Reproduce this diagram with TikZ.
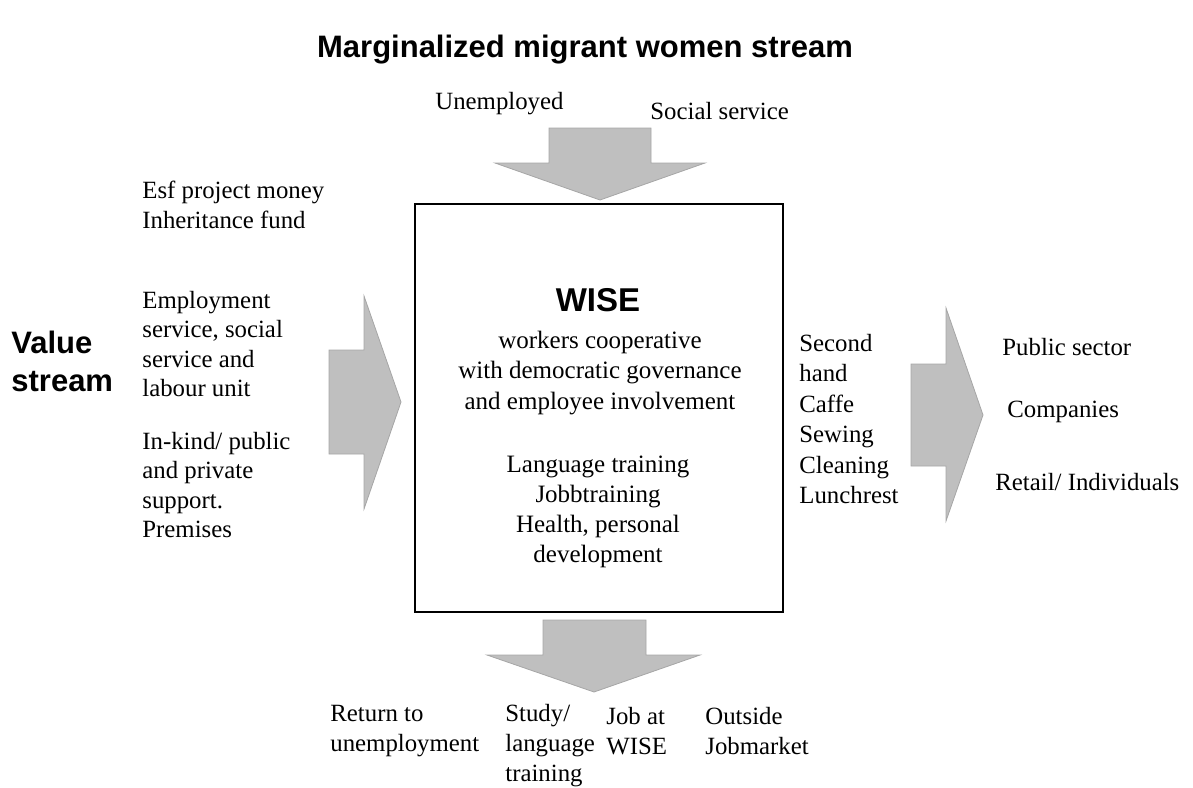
\documentclass[tikz,border=0pt]{standalone}
\usepackage{fontspec}
\setmainfont{Liberation Serif}
\newfontfamily\headfont{Liberation Sans}
\definecolor{flowgray}{RGB}{191,191,191}
\definecolor{flowedge}{RGB}{166,166,166}
\tikzset{
  txt/.style={inner sep=0pt, align=left, anchor=west, font=\fontsize{12.4}{14.8}\selectfont},
  ctxt/.style={inner sep=0pt, align=center, font=\fontsize{12.5}{15.1}\selectfont},
  head/.style={inner sep=0pt, font=\headfont\bfseries\fontsize{15.5}{19}\selectfont},
  blockarrow/.style={fill=flowgray, draw=flowedge, line width=0.4pt, line join=miter}
}

\begin{document}
\begin{tikzpicture}[x=0.5pt, y=-0.5pt]
            \useasboundingbox (0,0) rectangle (1193,787);
            \node[head](title) at (585,50) {Marginalized migrant women stream};
            \node[head, align=left, anchor=west](vs) at (11,361) {Value\\stream};

            % the four block arrows
            \draw[blockarrow] (549,128) -- (651,128) -- (651,163) -- (705,163) -- (600,200) -- (495,163) -- (549,163) -- cycle;
            \draw[blockarrow] (543,620) -- (646,620) -- (646,655) -- (700,655) -- (594,692) -- (487,655) -- (543,655) -- cycle;
            \draw[blockarrow] (329,350) -- (364,350) -- (364,296) -- (401,402) -- (364,509) -- (364,454) -- (329,454) -- cycle;
            \draw[blockarrow] (911,364) -- (946,364) -- (946,308) -- (983,415) -- (946,521) -- (946,466) -- (911,466) -- cycle;

            % the enterprise in the middle
            \node[draw, line width=1pt, minimum width=184pt, minimum height=204pt, inner sep=0pt](box) at (599,408) {};
            \node[head, font=\headfont\bfseries\fontsize{16.5}{19}\selectfont](wise) at (598,300) {WISE};
            \node[ctxt](coop) at (600,373) {workers cooperative\\with democratic governance\\and employee involvement};
            \node[ctxt](train) at (598,512) {Language training\\Jobbtraining\\Health, personal\\development};

            % flow in from the top
            \node[txt](unemp) at (435,104) {Unemployed};
            \node[txt](soc) at (650,111) {Social service};

            % value stream in from the left
            \node[txt, font=\fontsize{12.4}{15}\selectfont](esf) at (142,205) {Esf project money\\Inheritance fund};
            \node[txt](emp) at (142,344) {Employment\\service, social\\service and\\labour unit};
            \node[txt](kind) at (142,485) {In-kind/ public\\and private\\support.\\Premises};

            % businesses and customers
            \node[txt, font=\fontsize{12.4}{15.2}\selectfont](biz) at (799,419) {Second\\hand\\Caffe\\Sewing\\Cleaning\\Lunchrest};
            \node[txt](pub) at (1002,347) {Public sector};
            \node[txt](comp) at (1007,412) {Companies};
            \node[txt](ret) at (995,482) {Retail/ Individuals};

            % where people go afterwards
            \node[txt, font=\fontsize{12.4}{15}\selectfont](ret2) at (330,731) {Return to\\unemployment};
            \node[txt, font=\fontsize{12.4}{15}\selectfont](study) at (505,746) {Study/\\language\\training};
            \node[txt, font=\fontsize{12.4}{15}\selectfont](job) at (606,731) {Job at\\WISE};
            \node[txt, font=\fontsize{12.4}{15}\selectfont](out) at (705,731) {Outside\\Jobmarket};
\end{tikzpicture}
\end{document}
